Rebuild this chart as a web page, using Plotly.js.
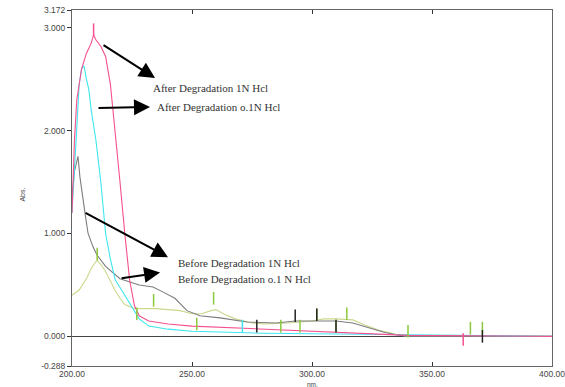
<!DOCTYPE html>
<html><head><meta charset="utf-8">
<script src="https://cdn.plot.ly/plotly-3.0.1.min.js"></script>
<style>html,body{margin:0;padding:0;background:#fff;}#chart{width:565px;height:387px;}</style>
</head><body><div id="chart"></div>
<script>
// After Degradation 1N HCl (pink)
const pinkX = [200,201,202,204,206,208,209,210,212,214,216,218,220,222,224,226,228,232,240,250,270,300,320,340,400];
const pinkY = [1.2,1.9,2.3,2.6,2.75,2.85,2.93,2.88,2.82,2.72,2.45,2.0,1.5,1.0,0.55,0.3,0.2,0.15,0.12,0.1,0.08,0.05,0.03,0.01,0.0];
// After Degradation 0.1N HCl (cyan)
const cyanX = [200,201,202,203,204,205,206,207,208,210,212,214,216,218,222,225,228,232,240,250,280,320,400];
const cyanY = [1.2,1.6,2.1,2.45,2.6,2.63,2.5,2.4,2.2,1.9,1.5,1.0,0.75,0.55,0.4,0.28,0.17,0.1,0.07,0.05,0.03,0.02,0.0];
// Before Degradation 1N HCl (grey)
const greyX = [200,201,202.5,203.3,205.4,206.7,208.75,210.4,214,220,228,233.75,238,242.9,247.9,253.3,261.7,272.9,285,293,300,310,317,324,330,335,340,400];
const greyY = [1.35,1.6,1.75,1.55,1.2,1.0,0.87,0.79,0.68,0.56,0.5,0.48,0.43,0.37,0.25,0.2,0.18,0.14,0.13,0.15,0.15,0.15,0.13,0.08,0.04,0.015,0.0,0.0];
// Before Degradation 0.1N HCl (light olive)
const oliveX = [200,203,206.2,208,210.4,212,213.75,216,217.9,220,222,226,230,235,240,245,250,254,258,260,263,268,275,280,290,300,305,310,317,322,328,335,340,400];
const oliveY = [0.4,0.45,0.57,0.66,0.74,0.7,0.64,0.53,0.45,0.37,0.31,0.27,0.27,0.27,0.26,0.25,0.22,0.22,0.25,0.26,0.22,0.17,0.13,0.12,0.13,0.15,0.17,0.17,0.16,0.11,0.06,0.02,0.0,0.0];
// peak / valley pick marks
const markGreenX = [210.5,227,234,252,259,287,295,302,310,314.5,340,366,371];
const markGreenY = [0.8,0.22,0.35,0.12,0.37,0.1,0.1,0.21,0.1,0.22,0.05,0.08,0.08];
const markBlackX = [277,293,302,310,371];
const markBlackY = [0.1,0.2,0.21,0.1,0.0];
const markCyanX = [271];
const markCyanY = [0.1];
const markPinkX = [363,209];
const markPinkY = [-0.03,2.98];
// axis ticks
const xTicks = [200,250,300,350,400];
const xTickText = ['200.00','250.00','300.00','350.00','400.00'];
const yTicks = [-0.288,0,1,2,3,3.172];
const yTickText = ['-0.288','0.000','1.000','2.000','3.000','3.172'];

const ln = (x,y,c,n)=>({x:x,y:y,type:'scatter',mode:'lines',name:n,line:{color:c,width:1.1},hoverinfo:'skip'});
const mk = (x,y,c)=>({x:x,y:y,type:'scatter',mode:'markers',marker:{symbol:'line-ns',size:9,color:c,line:{color:c,width:1.5}},hoverinfo:'skip'});

const data = [
  ln(oliveX,oliveY,'#c9d98c','Before Degradation o.1 N Hcl'),
  ln(greyX,greyY,'#7d7d7d','Before Degradation 1N Hcl'),
  ln(cyanX,cyanY,'#3fe6ef','After Degradation o.1N Hcl'),
  ln(pinkX,pinkY,'#f5508f','After Degradation 1N Hcl'),
  mk(markGreenX,markGreenY,'#8cc83c'),
  mk(markBlackX,markBlackY,'#222222'),
  mk(markCyanX,markCyanY,'#3fe6ef'),
  mk(markPinkX,markPinkY,'#f5508f')
];

const tf = {family:'Liberation Serif, Times New Roman, serif', size:11, color:'#333'};
const arrow = (x,y,ax,ay)=>({x:x,y:y,ax:ax,ay:ay,xref:'x',yref:'y',showarrow:true,arrowhead:2,arrowsize:1.6,arrowwidth:2,arrowcolor:'#000',text:''});
const label = (x,y,t)=>({x:x,y:y,xref:'x',yref:'y',text:t,showarrow:false,xanchor:'left',yanchor:'middle',font:tf});

const layout = {
  width:565,height:387,
  margin:{l:72,r:13,t:10,b:21},
  paper_bgcolor:'#fff',plot_bgcolor:'#fff',
  showlegend:false,
  font:{family:'Liberation Sans, Arial, sans-serif',size:8,color:'#444'},
  xaxis:{range:[200,400],tickvals:xTicks,ticktext:xTickText,ticks:'inside',ticklen:4,tickcolor:'#333',
    showline:true,linecolor:'#666',linewidth:1,mirror:'ticks',showgrid:false,zeroline:false,
    ticklabeloverflow:'allow',
    tickfont:{family:'Liberation Sans, Arial, sans-serif',size:8.5,color:'#444'}},
  yaxis:{range:[-0.288,3.172],tickvals:yTicks,ticktext:yTickText,ticks:'outside',ticklen:4,tickcolor:'#333',
    showline:true,linecolor:'#666',linewidth:1,mirror:true,showgrid:false,
    zeroline:true,zerolinecolor:'#444',zerolinewidth:1,ticklabeloverflow:'allow',
    tickfont:{family:'Liberation Sans, Arial, sans-serif',size:8.5,color:'#444'}},
  annotations:[
    arrow(234.6,2.51,-53,-34),
    arrow(232.5,2.23,-53,1),
    arrow(240,0.77,-84,-45),
    arrow(236.7,0.62,-40,6),
    label(232.9,2.41,'After Degradation 1N Hcl'),
    label(234.6,2.23,'After Degradation o.1N Hcl'),
    label(243.3,0.71,'Before Degradation 1N Hcl'),
    label(243.3,0.56,'Before Degradation o.1 N Hcl'),
    {xref:'paper',yref:'paper',x:0.5,y:0,yanchor:'middle',yshift:-18.5,text:'nm.',showarrow:false,font:{size:6.5,color:'#444'}},
    {xref:'paper',yref:'paper',x:0,xshift:-55,y:0.48,text:'Abs.',textangle:-90,showarrow:false,font:{size:7,color:'#444'}}
  ]
};
Plotly.newPlot('chart',data,layout,{staticPlot:true});
</script></body></html>
